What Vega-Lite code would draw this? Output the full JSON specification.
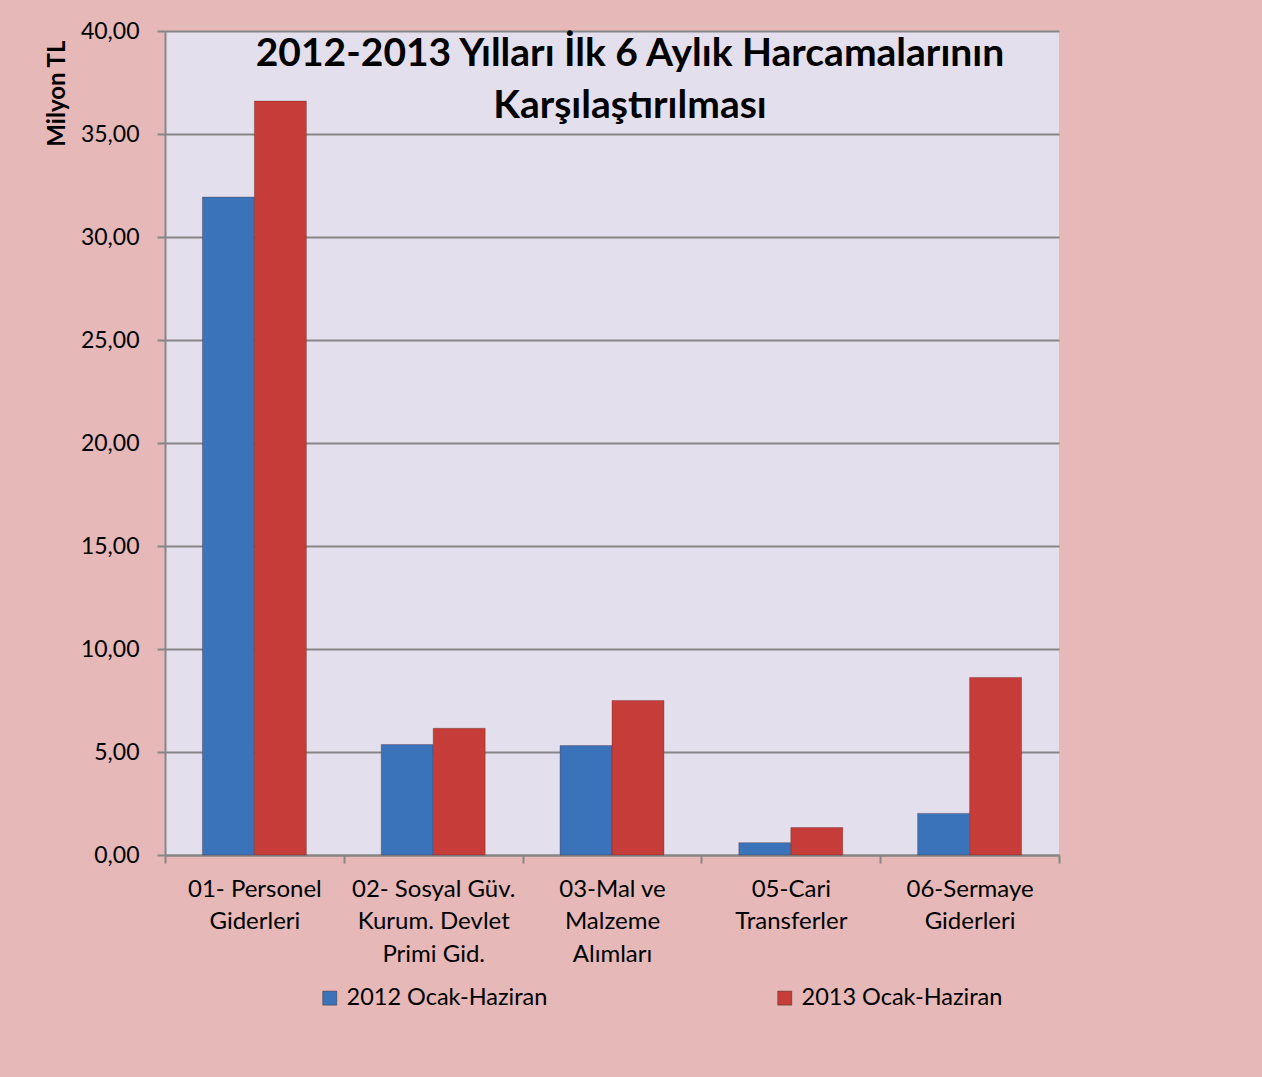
{
  "$schema": "https://vega.github.io/schema/vega-lite/v6.json",
  "autosize": {"type": "none"},
  "padding": {"left": 165, "top": 31, "right": 203, "bottom": 222},
  "width": 894,
  "height": 824,
  "background": "#E6B8B7",
  "title": {
    "text": ["2012-2013 Yılları İlk 6 Aylık Harcamalarının", "Karşılaştırılması"],
    "font": "Lato",
    "fontSize": 39,
    "fontWeight": "bold",
    "color": "#000000",
    "anchor": "middle",
    "frame": "group",
    "baseline": "top",
    "lineHeight": 52,
    "dx": 18,
    "dy": 106,
    "offset": 0
  },
  "data": {
    "values": [
      {"cat": "01- Personel|Giderleri", "series": "2012 Ocak-Haziran", "value": 31.94},
      {"cat": "01- Personel|Giderleri", "series": "2013 Ocak-Haziran", "value": 36.6},
      {"cat": "02- Sosyal Güv.|Kurum. Devlet|Primi Gid.", "series": "2012 Ocak-Haziran", "value": 5.36},
      {"cat": "02- Sosyal Güv.|Kurum. Devlet|Primi Gid.", "series": "2013 Ocak-Haziran", "value": 6.15},
      {"cat": "03-Mal ve|Malzeme|Alımları", "series": "2012 Ocak-Haziran", "value": 5.31},
      {"cat": "03-Mal ve|Malzeme|Alımları", "series": "2013 Ocak-Haziran", "value": 7.5},
      {"cat": "05-Cari|Transferler", "series": "2012 Ocak-Haziran", "value": 0.6},
      {"cat": "05-Cari|Transferler", "series": "2013 Ocak-Haziran", "value": 1.33},
      {"cat": "06-Sermaye|Giderleri", "series": "2012 Ocak-Haziran", "value": 2.02},
      {"cat": "06-Sermaye|Giderleri", "series": "2013 Ocak-Haziran", "value": 8.62}
    ]
  },
  "mark": {"type": "bar", "stroke": "#5a2a2a", "strokeOpacity": 0.35, "strokeWidth": 1},
  "encoding": {
    "x": {
      "field": "cat",
      "type": "nominal",
      "sort": null,
      "scale": {"paddingInner": 0, "paddingOuter": 0},
      "axis": {
        "title": null,
        "labelAngle": 0,
        "labelExpr": "split(datum.label, '|')",
        "labelFont": "Lato",
        "labelFontSize": 24,
        "labelColor": "#000000",
        "labelLineHeight": 32.5,
        "labelPadding": 14,
        "labelLimit": 300,
        "tickBand": "extent",
        "tickSize": 8,
        "tickColor": "#868686",
        "tickWidth": 2,
        "domainColor": "#868686",
        "domainWidth": 2,
        "grid": false
      }
    },
    "xOffset": {"field": "series", "type": "nominal", "scale": {"paddingInner": 0, "paddingOuter": 0.72}},
    "y": {
      "field": "value",
      "type": "quantitative",
      "scale": {"domain": [0, 40], "nice": false},
      "axis": {
        "title": "Milyon TL",
        "titleFont": "Lato",
        "titleFontSize": 24,
        "titleFontWeight": "bold",
        "titleColor": "#000000",
        "titleAnchor": "end",
        "titleY": 9,
        "titlePadding": 11,
        "values": [0, 5, 10, 15, 20, 25, 30, 35, 40],
        "labelExpr": "replace(format(datum.value, '.2f'), '.', ',')",
        "labelFont": "Lato",
        "labelFontSize": 23,
        "labelColor": "#000000",
        "labelPadding": 18,
        "tickSize": 8,
        "tickColor": "#868686",
        "tickWidth": 2,
        "domainColor": "#868686",
        "domainWidth": 2,
        "gridColor": "#868686",
        "gridWidth": 2
      }
    },
    "color": {
      "field": "series",
      "type": "nominal",
      "scale": {"range": ["#3B73BA", "#C53C39"]},
      "legend": {
        "title": null,
        "orient": "none",
        "direction": "horizontal",
        "legendX": 153,
        "legendY": 955,
        "symbolType": "square",
        "symbolSize": 196,
        "symbolStrokeColor": "#333333",
        "symbolStrokeWidth": 0.5,
        "labelFont": "Lato",
        "labelFontSize": 23.5,
        "labelColor": "#000000",
        "labelOffset": 5,
        "columnPadding": 225,
        "labelLimit": 400
      }
    }
  },
  "config": {
    "view": {"fill": "#E4DFEC", "stroke": null}
  }
}
